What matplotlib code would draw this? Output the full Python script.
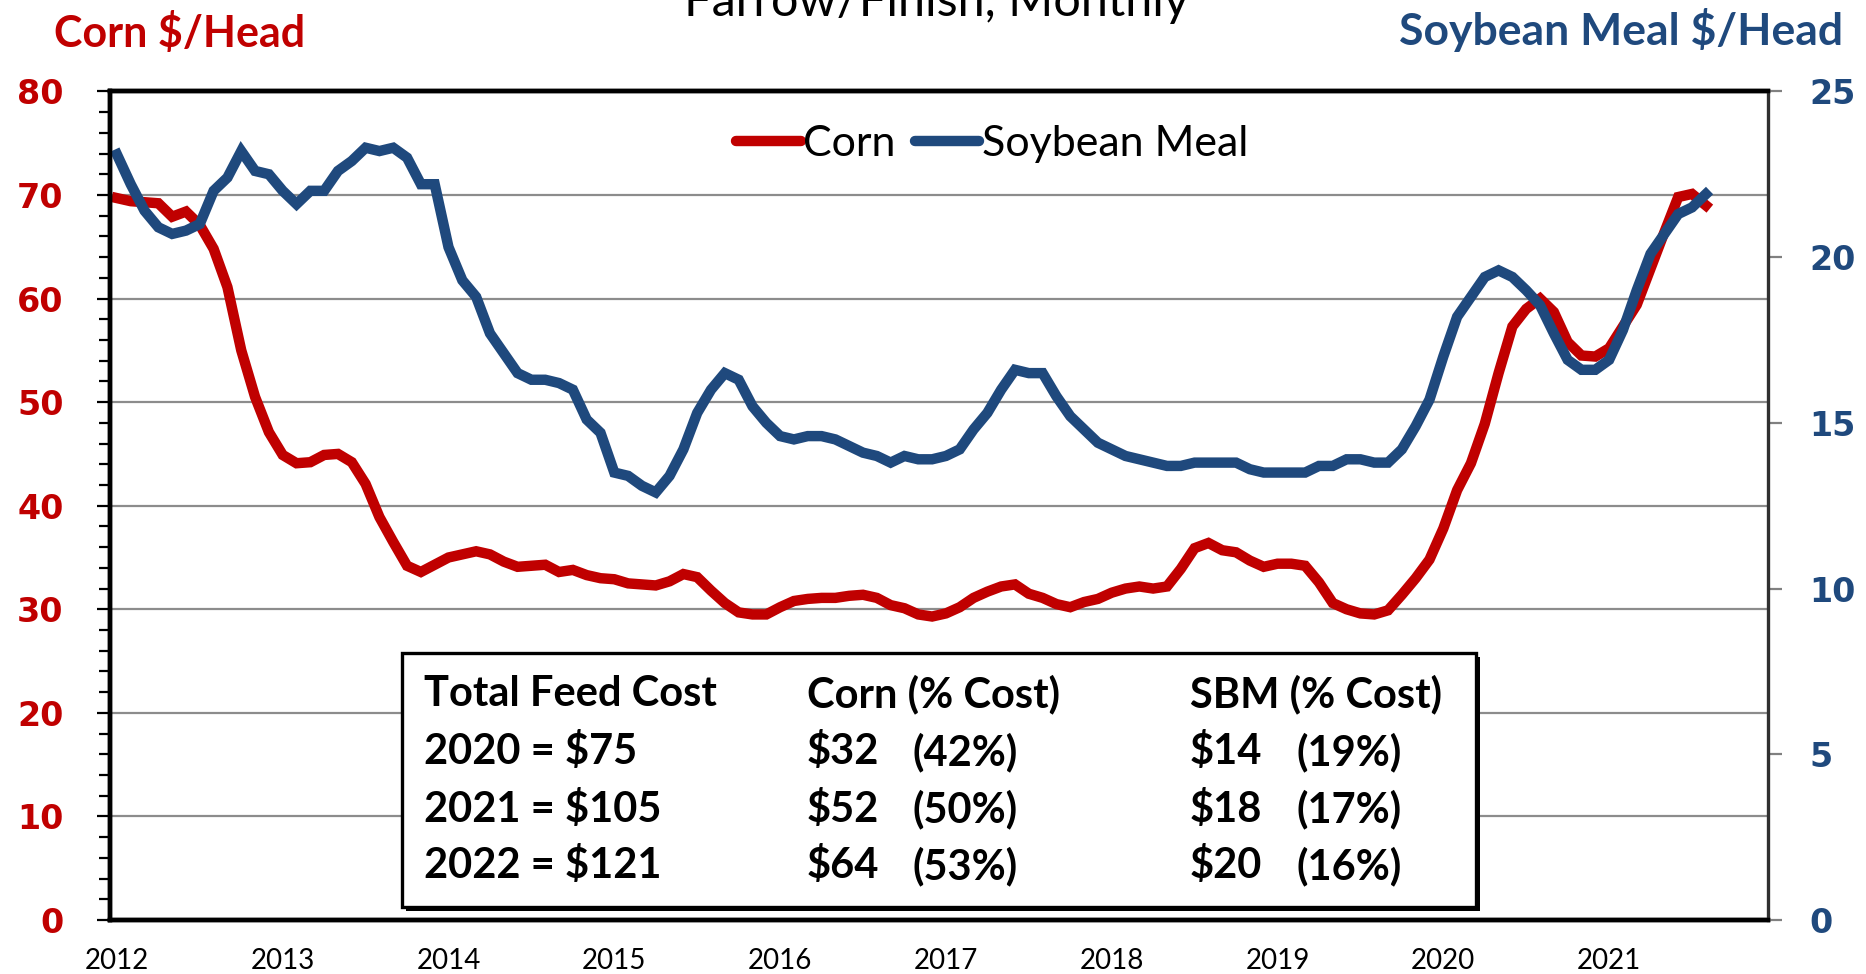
import numpy as np
import matplotlib
matplotlib.use('Agg')
import matplotlib.pyplot as plt
from matplotlib.lines import Line2D
from matplotlib.patches import Rectangle
from matplotlib.ticker import MultipleLocator

# monthly feed cost per head, Jan 2012 .. Aug 2021
corn = [69.7, 69.4, 69.3, 69.2, 67.9, 68.4, 67.1, 64.8, 61.1, 55.0, 50.5, 47.1,
        44.9, 44.1, 44.2, 44.9, 45.0, 44.2, 42.1, 38.9, 36.5, 34.2, 33.6, 34.3,
        35.0, 35.3, 35.6, 35.3, 34.6, 34.1, 34.2, 34.3, 33.6, 33.8, 33.3, 33.0,
        32.9, 32.5, 32.4, 32.3, 32.7, 33.4, 33.1, 31.8, 30.6, 29.7, 29.5, 29.5,
        30.2, 30.8, 31.0, 31.1, 31.1, 31.3, 31.4, 31.1, 30.4, 30.1, 29.5, 29.3,
        29.6, 30.2, 31.1, 31.7, 32.2, 32.4, 31.5, 31.1, 30.5, 30.2, 30.7, 31.0,
        31.6, 32.0, 32.2, 32.0, 32.2, 33.9, 35.9, 36.4, 35.7, 35.5, 34.7, 34.1,
        34.4, 34.4, 34.2, 32.6, 30.6, 30.0, 29.6, 29.5, 29.9, 31.4, 33.0, 34.8,
        37.8, 41.5, 44.1, 47.9, 52.8, 57.3, 59.0, 60.0, 58.7, 55.8, 54.5, 54.4,
        55.2, 57.3, 59.4, 62.9, 66.4, 69.8, 70.1, 69.0]
soy = [23.1, 22.2, 21.4, 20.9, 20.7, 20.8, 21.0, 22.0, 22.4, 23.2, 22.6, 22.5,
       22.0, 21.6, 22.0, 22.0, 22.6, 22.9, 23.3, 23.2, 23.3, 23.0, 22.2, 22.2,
       20.3, 19.3, 18.8, 17.7, 17.1, 16.5, 16.3, 16.3, 16.2, 16.0, 15.1, 14.7,
       13.5, 13.4, 13.1, 12.9, 13.4, 14.2, 15.3, 16.0, 16.5, 16.3, 15.5, 15.0,
       14.6, 14.5, 14.6, 14.6, 14.5, 14.3, 14.1, 14.0, 13.8, 14.0, 13.9, 13.9,
       14.0, 14.2, 14.8, 15.3, 16.0, 16.6, 16.5, 16.5, 15.8, 15.2, 14.8, 14.4,
       14.2, 14.0, 13.9, 13.8, 13.7, 13.7, 13.8, 13.8, 13.8, 13.8, 13.6, 13.5,
       13.5, 13.5, 13.5, 13.7, 13.7, 13.9, 13.9, 13.8, 13.8, 14.2, 14.9, 15.7,
       17.0, 18.2, 18.8, 19.4, 19.6, 19.4, 19.0, 18.55, 17.7, 16.9, 16.6, 16.6,
       16.9, 17.8, 19.0, 20.1, 20.7, 21.3, 21.5, 21.9]
years = [str(y) for y in range(2012, 2022)]
n_slots = 120

table_head = ["Total Feed Cost", "Corn (% Cost)", "SBM (% Cost)"]
table_total = ["2020 = $75", "2021 = $105", "2022 = $121"]
corn_cost = ["$32", "$52", "$64"]
corn_pct = ["(42%)", "(50%)", "(53%)"]
sbm_cost = ["$14", "$18", "$20"]
sbm_pct = ["(19%)", "(17%)", "(16%)"]

RED = '#C00000'
BLUE = '#1F497D'
W, H = 1866, 974
plt.rcParams['font.family'] = 'Lato'

fig = plt.figure(figsize=(W / 100, H / 100), dpi=100)
ax = fig.add_axes([110 / W, 1 - 920 / H, 1658 / W, 828.6 / H])
ax2 = ax.twinx()

x = np.arange(len(corn))
LW = 7.5
ax.plot(x, corn, color=RED, lw=LW, solid_joinstyle='miter')
ax2.plot(x, soy, color=BLUE, lw=LW, solid_joinstyle='miter')

ax.set_xlim(-0.5, n_slots - 0.5)
ax.set_ylim(0, 80)
ax2.set_ylim(0, 25)
ax.yaxis.set_major_locator(MultipleLocator(10))
ax.yaxis.set_minor_locator(MultipleLocator(2))
ax2.yaxis.set_major_locator(MultipleLocator(5))
ax.grid(axis='y', which='major', color='#8c8c8c', lw=1.6)
ax.set_axisbelow(True)

ax.set_xticks(np.arange(0, 12 * len(years), 12))
ax.set_xticklabels(years)
ax.tick_params(axis='x', length=0, pad=20, labelsize=20)
ax.tick_params(axis='y', which='major', direction='out', length=9.5, width=1.6,
               pad=24, labelsize=24, labelcolor=RED)
ax.tick_params(axis='y', which='minor', direction='out', length=8, width=1.6)
ax2.tick_params(axis='y', direction='out', length=10, width=1.6, color='#808080',
                pad=20, labelsize=24, labelcolor=BLUE)
for lab in ax.get_yticklabels() + ax2.get_yticklabels():
    lab.set_fontfamily('DejaVu Sans')
    lab.set_fontweight('bold')

for s in ['left', 'top', 'bottom']:
    ax.spines[s].set_linewidth(3.2)
    ax2.spines[s].set_linewidth(3.2)
ax2.spines['right'].set_linewidth(2.4)
ax2.spines['right'].set_color('#303030')

handles = [Line2D([], [], color=RED, lw=LW, solid_capstyle='round'),
           Line2D([], [], color=BLUE, lw=LW, solid_capstyle='round')]
ax2.legend(handles, ['Corn', 'Soybean Meal'], loc='center', bbox_to_anchor=(0.532, 0.936),
           ncol=2, frameon=False, fontsize=31, handlelength=1.5, handletextpad=0.05,
           columnspacing=0.45)

# axis titles and clipped chart title
fig.text(180 / W, 1 - 33 / H, 'Corn $/Head', color=RED, fontsize=31, fontweight='bold',
         ha='center', va='center')
fig.text(1621 / W, 1 - 30 / H, 'Soybean Meal $/Head', color=BLUE, fontsize=32,
         fontweight='bold', ha='center', va='center')
fig.text(936 / W, 1 - 16 / H, 'Farrow/Finish, Monthly', fontsize=35, ha='center',
         va='baseline')

# summary table box with drop shadow
bx, by, bw, bh = 402, 653, 1074, 254
fig.add_artist(Rectangle(((bx + 4) / W, 1 - (by + bh + 4) / H), bw / W, bh / H,
                         transform=fig.transFigure, facecolor='black', edgecolor='black', lw=0))
fig.add_artist(Rectangle((bx / W, 1 - (by + bh) / H), bw / W, bh / H,
                         transform=fig.transFigure, facecolor='white', edgecolor='black', lw=2.4))
row_y = [694, 752, 809, 866]
fs = 30
wt = 'bold'
for xp, t in zip([424, 807, 1190], table_head):
    fig.text(xp / W, 1 - row_y[0] / H, t, fontsize=fs, fontweight=wt, va='center')
for k in range(3):
    yy = 1 - row_y[k + 1] / H
    fig.text(424 / W, yy, table_total[k], fontsize=fs, fontweight=wt, va='center')
    fig.text(807 / W, yy, corn_cost[k], fontsize=fs, fontweight=wt, va='center')
    fig.text(913 / W, yy, corn_pct[k], fontsize=fs, fontweight=wt, va='center')
    fig.text(1190 / W, yy, sbm_cost[k], fontsize=fs, fontweight=wt, va='center')
    fig.text(1297 / W, yy, sbm_pct[k], fontsize=fs, fontweight=wt, va='center')

fig.savefig('out.png', dpi=100)
